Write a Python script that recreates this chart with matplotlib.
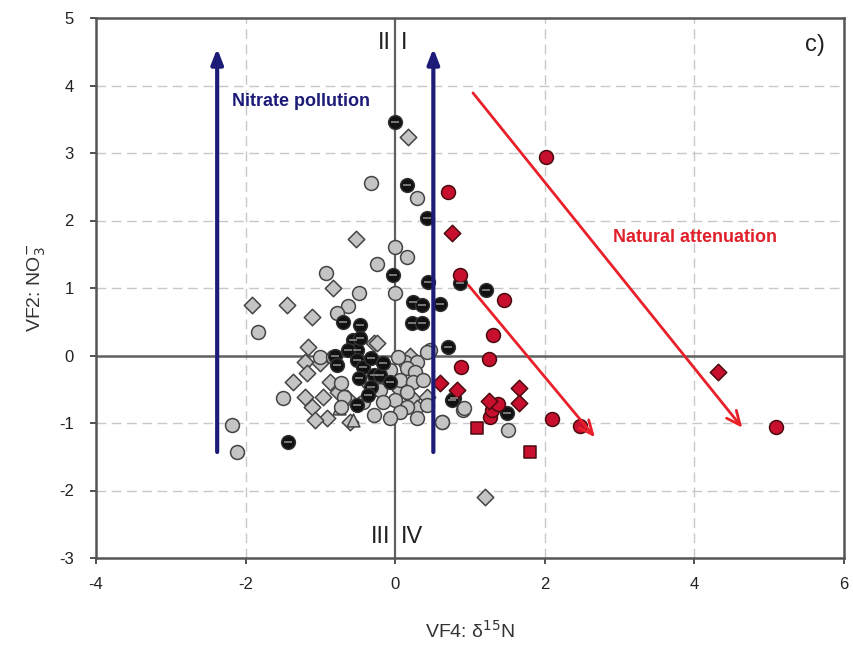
import matplotlib
matplotlib.use("Agg")
import matplotlib.pyplot as plt

plt.rcParams['font.family'] = ['Liberation Sans', 'DejaVu Sans']

# ---- data ----
grey_circle_x = [-0.33, 0.29, 0.0, 0.16, -0.25, -0.92, -0.48, 0.0, -0.63, -0.78, -1.83, 0.47,
                 -2.18, -2.11, -1.50, -1.00, -0.83, -0.73, -0.69, -0.73, -0.43, -0.07, 0.13, 0.29,
                 0.16, 0.27, 0.07, 0.24, 0.37, 0.16, 0.0, 0.16, 0.07, 0.29, 0.43, 0.43, 0.63,
                 -0.20, -0.16, 0.04, -0.37, -0.29, -0.07, 0.91, 1.51, 0.63, 0.92]
grey_circle_y = [2.55, 2.33, 1.61, 1.46, 1.36, 1.22, 0.93, 0.93, 0.73, 0.63, 0.35, 0.08,
                 -1.03, -1.43, -0.63, -0.02, -0.02, -0.41, -0.61, -0.76, -0.69, -0.21, -0.10, -0.10,
                 -0.19, -0.25, -0.36, -0.39, -0.36, -0.54, -0.66, -0.76, -0.84, -0.93, -0.73, 0.05, -0.99,
                 -0.51, -0.69, -0.02, -0.39, -0.88, -0.93, -0.81, -1.10, -0.99, -0.78]

grey_diamond_x = [0.17, -0.52, -0.83, -1.91, -1.44, -1.11, -0.29, -1.16, -1.20, -1.00, -1.18,
                  -1.36, -1.20, -1.11, -0.91, -0.60, -1.07, -0.87, -0.76, -0.96, -0.64, -0.24,
                  -0.11, 0.07, 0.23, 0.29, 0.20, 0.43, 1.20]
grey_diamond_y = [3.24, 1.73, 1.00, 0.75, 0.75, 0.57, 0.18, 0.13, -0.10, -0.11, -0.26,
                  -0.39, -0.61, -0.76, -0.93, -0.98, -0.96, -0.39, -0.54, -0.61, -0.63, 0.19,
                  -0.32, -0.51, -0.63, -0.78, 0.00, -0.61, -2.10]

grey_triangle_x = [-0.57, -0.75]
grey_triangle_y = [-0.95, -0.78]

black_x = [0.0, 0.16, 0.43, -0.03, 0.44, 0.24, 0.36, 0.60, -0.70, -0.47, 0.23, 0.36, -0.57,
           -0.51, 0.70, -0.80, -0.63, -0.47, -0.78, -0.51, -0.43, -0.33, -0.29, -0.49, -0.33,
           -0.20, -0.36, -0.51, -0.07, -0.16, 0.86, 1.22, 0.78, 1.50, -1.43, 0.76]
black_y = [3.46, 2.52, 2.04, 1.19, 1.09, 0.79, 0.75, 0.76, 0.50, 0.45, 0.48, 0.48, 0.23,
           0.08, 0.13, 0.00, 0.08, 0.26, -0.14, -0.07, -0.17, -0.04, -0.29, -0.33, -0.47,
           -0.29, -0.59, -0.73, -0.39, -0.11, 1.07, 0.97, -0.63, -0.85, -1.28, -0.66]

red_circle_x = [2.02, 0.70, 0.86, 1.45, 1.31, 1.26, 0.88, 1.27, 2.09, 2.47, 5.09, 1.30, 1.38]
red_circle_y = [2.94, 2.42, 1.19, 0.82, 0.30, -0.05, -0.17, -0.91, -0.94, -1.04, -1.06, -0.80, -0.72]

red_diamond_x = [0.76, 0.60, 0.83, 1.65, 1.66, 1.25, 4.32]
red_diamond_y = [1.81, -0.41, -0.51, -0.48, -0.70, -0.68, -0.24]

red_square_x = [1.10, 1.80]
red_square_y = [-1.07, -1.43]

# arrows: (x_start, y_start, x_end, y_end)
blue_arrows = [(-2.38, -1.43, -2.38, 4.55), (0.51, -1.43, 0.51, 4.55)]
red_arrows = [(1.04, 3.89, 4.64, -1.07), (0.98, 1.04, 2.67, -1.21)]

x_ticks = [-4, -2, 0, 2, 4, 6]
y_ticks = [-3, -2, -1, 0, 1, 2, 3, 4, 5]

# ---- figure ----
fig = plt.figure(figsize=(8.54, 6.6), dpi=100)
ax = fig.add_axes([96/854, 1-558/660, (844-96)/854, (558-18)/660])
ax.set_xlim(-4, 6)
ax.set_ylim(-3, 5)

grid_c = '#c8c8c8'
for gx in [-2, 2, 4]:
    ax.axvline(gx, color=grid_c, lw=1.0, ls=(0, (7, 4)), zorder=0)
for gy in [-2, -1, 1, 2, 3, 4]:
    ax.axhline(gy, color=grid_c, lw=1.0, ls=(0, (7, 4)), zorder=0)
ax.axvline(0, color='#606060', lw=1.6, zorder=1)
ax.axhline(0, color='#606060', lw=1.8, zorder=1)

grey_fc, grey_ec = '#c4c4c4', '#444444'
red_fc, red_ec = '#c8102e', '#4a0a10'

ax.scatter(grey_diamond_x, grey_diamond_y, marker='D', s=70, facecolor=grey_fc,
           edgecolor=grey_ec, linewidth=1.1, zorder=3)
ax.scatter(grey_triangle_x, grey_triangle_y, marker='^', s=85, facecolor=grey_fc,
           edgecolor=grey_ec, linewidth=1.1, zorder=3)
ax.scatter(grey_circle_x, grey_circle_y, marker='o', s=100, facecolor=grey_fc,
           edgecolor=grey_ec, linewidth=1.1, zorder=3)
ax.scatter(black_x, black_y, marker='o', s=100, facecolor='#111111',
           edgecolor='#333333', linewidth=1.0, zorder=4)
ax.scatter(black_x, black_y, marker='_', s=30, color='#8a8a8a', linewidth=1.2, zorder=5)
ax.scatter(red_circle_x, red_circle_y, marker='o', s=100, facecolor=red_fc,
           edgecolor=red_ec, linewidth=1.1, zorder=4)
ax.scatter(red_diamond_x, red_diamond_y, marker='D', s=70, facecolor=red_fc,
           edgecolor=red_ec, linewidth=1.1, zorder=4)
ax.scatter(red_square_x, red_square_y, marker='s', s=80, facecolor=red_fc,
           edgecolor=red_ec, linewidth=1.1, zorder=4)

for x0, y0, x1, y1 in blue_arrows:
    ax.annotate('', xy=(x1, y1), xytext=(x0, y0),
                arrowprops=dict(arrowstyle='-|>,head_length=0.9,head_width=0.35',
                                color='#1c1c78', lw=3, shrinkA=0, shrinkB=0), zorder=6)
for x0, y0, x1, y1 in red_arrows:
    ax.annotate('', xy=(x1, y1), xytext=(x0, y0),
                arrowprops=dict(arrowstyle='->,head_length=1.0,head_width=0.45',
                                color='#e8202a', lw=2, shrinkA=0, shrinkB=0), zorder=6)

ax.text(-2.18, 3.77, 'Nitrate pollution', color='#1c1c78', fontsize=13,
        fontweight='bold', ha='left', va='center', zorder=7)
ax.text(2.91, 1.75, 'Natural attenuation', color='#e0202a', fontsize=13,
        fontweight='bold', ha='left', va='center', zorder=7)
ax.text(-0.06, 4.63, 'II', fontsize=17, ha='right', va='center', color='#222222')
ax.text(0.07, 4.63, 'I', fontsize=17, ha='left', va='center', color='#222222')
ax.text(-0.06, -2.69, 'III', fontsize=17, ha='right', va='center', color='#222222')
ax.text(0.07, -2.69, 'IV', fontsize=17, ha='left', va='center', color='#222222')
ax.text(5.75, 4.6, 'c)', fontsize=17, ha='right', va='center', color='#222222')

ax.set_xticks(x_ticks)
ax.set_yticks(y_ticks)
ax.set_xticklabels([str(t) for t in x_ticks])
ax.set_yticklabels([str(t) for t in y_ticks])
ax.tick_params(axis='both', labelsize=12, direction='out', length=4, width=1.2,
               colors='#333333', labelcolor='#222222')
ax.tick_params(axis='y', pad=12)
ax.tick_params(axis='x', pad=10)
for s in ax.spines.values():
    s.set_color('#555555')
    s.set_linewidth(1.8)

ax.set_xlabel('VF4: δ$^{15}$N', fontsize=14, color='#333333', labelpad=20)
ax.set_ylabel(r'VF2: NO$_3^{-}$', fontsize=14, color='#333333', labelpad=8)

fig.savefig('out.png', dpi=100)
